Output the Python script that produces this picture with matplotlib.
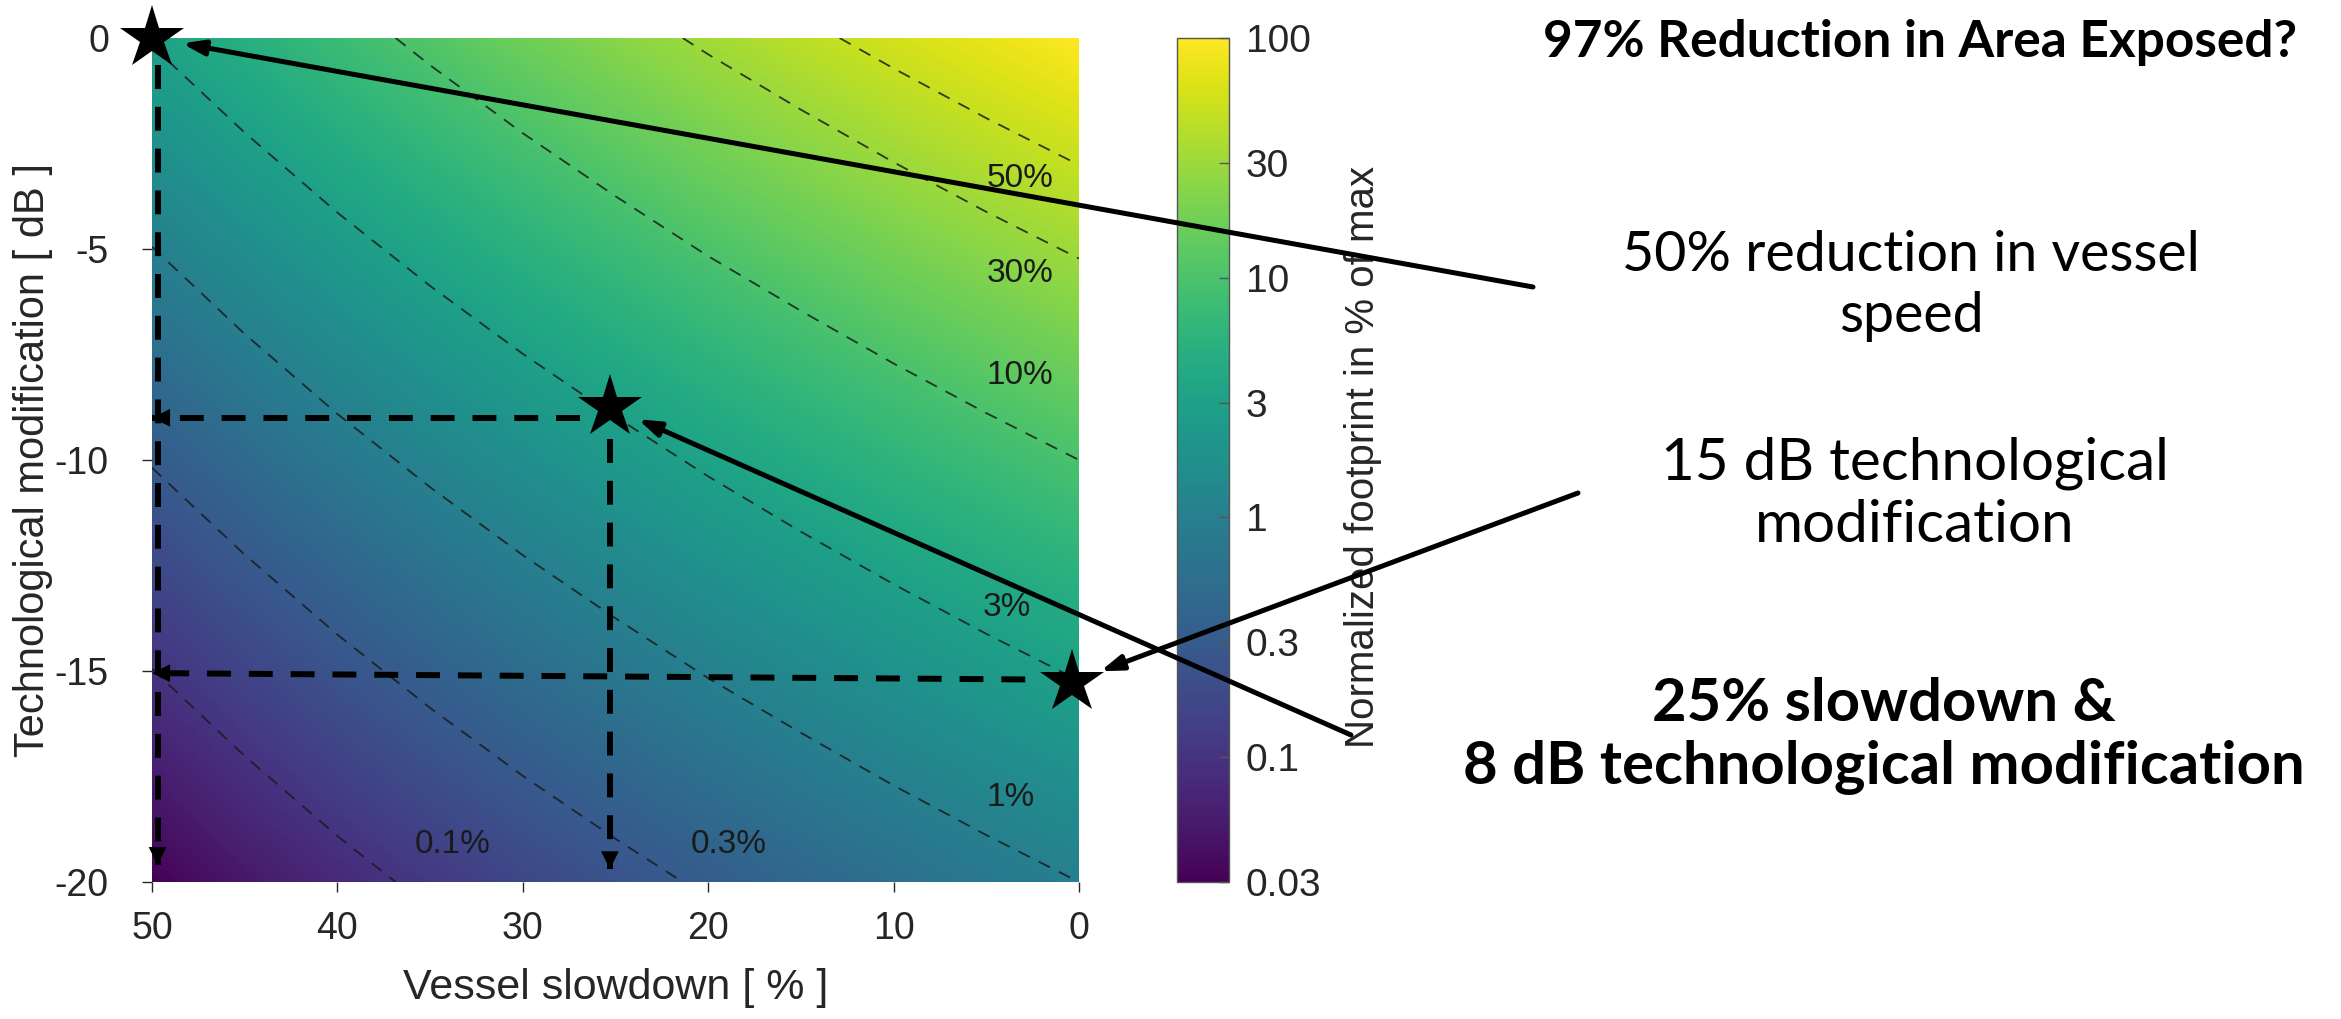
import numpy as np
import matplotlib
matplotlib.use("Agg")
import matplotlib.pyplot as plt
from matplotlib.colors import Normalize, LogNorm
from matplotlib.cm import ScalarMappable
from matplotlib.patches import FancyArrowPatch

# ---------------- data ----------------
slowdown_pct = [0, 5, 10, 15, 20, 25, 30, 35, 40, 45, 50]
tech_mod_db = [0, -5, -10, -15, -20]
footprint_pct = [
    [100.0, 77.4, 59.0, 44.4, 32.8, 23.7, 16.8, 11.6, 7.78, 5.03, 3.13],
    [31.6, 24.5, 18.7, 14.0, 10.4, 7.50, 5.32, 3.67, 2.46, 1.59, 0.988],
    [10.0, 7.74, 5.90, 4.44, 3.28, 2.37, 1.68, 1.16, 0.778, 0.503, 0.313],
    [3.16, 2.45, 1.87, 1.40, 1.04, 0.750, 0.532, 0.367, 0.246, 0.159, 0.0988],
    [1.00, 0.774, 0.590, 0.444, 0.328, 0.237, 0.168, 0.116, 0.0778, 0.0503, 0.0313],
]
contour_levels_pct = [0.1, 0.3, 1, 3, 10, 30, 50]
contour_label_text = ["0.1%", "0.3%", "1%", "3%", "10%", "30%", "50%"]
contour_label_slowdown = [33.8, 18.9, 3.7, 3.9, 3.2, 3.2, 3.2]
contour_label_db = [-19.1, -19.1, -18.0, -13.5, -8.0, -5.57, -3.34]

colorbar_ticks = [0.03, 0.1, 0.3, 1, 3, 10, 30, 100]
colorbar_ticklabels = ["0.03", "0.1", "0.3", "1", "3", "10", "30", "100"]
x_ticks = [50, 40, 30, 20, 10, 0]
y_ticks = [0, -5, -10, -15, -20]

scenario_slowdown = [50.0, 25.3, 0.4]
scenario_db = [0.0, -8.74, -15.26]

guide_start_slowdown = [49.7, 26.9, 25.3, 2.9]
guide_start_db = [-0.65, -9.0, -9.5, -15.2]
guide_end_slowdown = [49.7, 50.0, 25.3, 50.0]
guide_end_db = [-19.6, -9.0, -19.7, -15.05]

annotation_texts = ["50% reduction in vessel\nspeed",
                    "15 dB technological\nmodification",
                    "25% slowdown &\n8 dB technological modification"]
arrow_target_scenario = [0, 2, 1]
title_text = "97% Reduction in Area Exposed?"

# ---------------- figure ----------------
W, H, DPI = 2341, 1019, 100
fig = plt.figure(figsize=(W / DPI, H / DPI), dpi=DPI, facecolor="white")

def fx(px):
    return px / W

def fy(py):
    return 1 - py / H

ax_l, ax_r, ax_t, ax_b = 152, 1079, 38, 882
ax = fig.add_axes([fx(ax_l), fy(ax_b), fx(ax_r - ax_l), (ax_b - ax_t) / H])
cax = fig.add_axes([fx(1177), fy(ax_b), fx(1229 - 1177), (ax_b - ax_t) / H])

tick_color = "#262626"
tick_font = "Liberation Sans"

S = np.array(slowdown_pct, dtype=float)
D = np.array(tech_mod_db, dtype=float)
F = np.array(footprint_pct, dtype=float)
logF = np.log10(F)

vmin_log, vmax_log = np.log10(0.03), np.log10(100)
ds = S[1] - S[0]
dd = D[0] - D[1]
ax.imshow(logF, cmap="viridis", norm=Normalize(vmin_log, vmax_log),
          extent=(S[0] - ds / 2, S[-1] + ds / 2, D[-1] - dd / 2, D[0] + dd / 2),
          origin="upper", aspect="auto", interpolation="bilinear",
          interpolation_stage="data", zorder=0)

SS, DD = np.meshgrid(S, D)
ax.contour(SS, DD, logF, levels=np.log10(contour_levels_pct),
           colors="#1a1a1a", linewidths=1.3, linestyles=[(0, (7, 5.5))],
           alpha=0.85, zorder=2)

for txt, xs, yd in zip(contour_label_text, contour_label_slowdown, contour_label_db):
    ax.text(xs, yd, txt, ha="center", va="center", fontsize=24,
            family=tick_font, color="#1a1a1a", zorder=3)

ax.set_xlim(50, 0)
ax.set_ylim(-20, 0)
ax.set_xticks(x_ticks)
ax.set_yticks(y_ticks)
ax.set_xticklabels([str(v) for v in x_ticks])
ax.set_yticklabels([str(v) for v in y_ticks])
ax.tick_params(direction="out", length=7, width=1.0, color=tick_color,
               labelsize=27, labelcolor=tick_color)
ax.tick_params(axis="x", pad=14)
ax.tick_params(axis="y", pad=24)
for lab in ax.get_xticklabels() + ax.get_yticklabels():
    lab.set_family(tick_font)
for sp in ax.spines.values():
    sp.set_visible(False)

ax.set_xlabel("Vessel slowdown [ % ]", fontsize=31, family=tick_font,
              color=tick_color, va="center")
ax.set_ylabel("Technological modification [ dB ]", fontsize=30, family=tick_font,
              color=tick_color, va="center")
ax.xaxis.set_label_coords(0.5, (ax_b - 988) / (ax_b - ax_t))
ax.yaxis.set_label_coords((33 - ax_l) / (ax_r - ax_l), 0.5)

# guide dashed lines with arrow heads
for xs0, yd0, xs1, yd1 in zip(guide_start_slowdown, guide_start_db,
                              guide_end_slowdown, guide_end_db):
    ax.plot([xs0, xs1], [yd0, yd1], color="black", lw=4.3,
            dashes=(4, 3), solid_capstyle="butt", dash_capstyle="butt",
            zorder=5, clip_on=False)
    ax.annotate("", xy=(xs1, yd1),
                xytext=(xs1 + (xs0 - xs1) * 0.02, yd1 + (yd0 - yd1) * 0.02),
                arrowprops=dict(arrowstyle="-|>,head_length=0.65,head_width=0.32",
                                mutation_scale=20, lw=0, color="black",
                                shrinkA=0, shrinkB=0),
                zorder=6, annotation_clip=False)

# stars
ax.plot(scenario_slowdown, scenario_db, linestyle="none", marker="*",
        markersize=48, color="black", markeredgewidth=0, zorder=8, clip_on=False)

# colorbar
sm = ScalarMappable(norm=LogNorm(0.03, 100), cmap="viridis")
cb = fig.colorbar(sm, cax=cax)
cb.set_ticks(colorbar_ticks)
cb.set_ticklabels(colorbar_ticklabels)
cax.minorticks_off()
cax.tick_params(direction="in", length=7, width=1.0, color="#555555",
                labelsize=28, labelcolor=tick_color, pad=12)
for lab in cax.get_yticklabels():
    lab.set_family(tick_font)
cb.outline.set_edgecolor("#555555")
cb.outline.set_linewidth(1.0)

fig.text(fx(1363), fy(457), "Normalized footprint in % of max", rotation=90,
         ha="center", va="center", fontsize=29, family=tick_font, color=tick_color)

# right-hand text
text_font = ["Lato", "DejaVu Sans"]
fig.text(fx(1920), fy(42), title_text, ha="center", va="center",
         fontsize=37, weight="bold", family=text_font, color="black")
fig.text(fx(1911), fy(286), annotation_texts[0], ha="center", va="center",
         multialignment="center", fontsize=40, weight="normal",
         family=text_font, color="black", linespacing=1.25)
fig.text(fx(1915), fy(494), annotation_texts[1], ha="center", va="center",
         multialignment="center", fontsize=42, weight="normal",
         family=text_font, color="black", linespacing=1.2)
fig.text(fx(1884), fy(736), annotation_texts[2], ha="center", va="center",
         multialignment="center", fontsize=43, weight="bold",
         family=text_font, color="black", linespacing=1.2)

# annotation arrows from texts to stars (drawn over colorbar)
arrow_starts_px = [(1533, 287), (1578, 493), (1351, 735)]
fig.canvas.draw()
for (px, py), idx in zip(arrow_starts_px, arrow_target_scenario):
    disp = ax.transData.transform((scenario_slowdown[idx], scenario_db[idx]))
    tip = fig.transFigure.inverted().transform(disp)
    arr = FancyArrowPatch((fx(px), fy(py)), tuple(tip),
                          transform=fig.transFigure,
                          arrowstyle="-|>,head_length=0.65,head_width=0.22",
                          mutation_scale=20, lw=3.6, color="black",
                          shrinkA=0, shrinkB=22, zorder=20)
    fig.add_artist(arr)

fig.savefig("out.png", dpi=DPI, facecolor="white")
